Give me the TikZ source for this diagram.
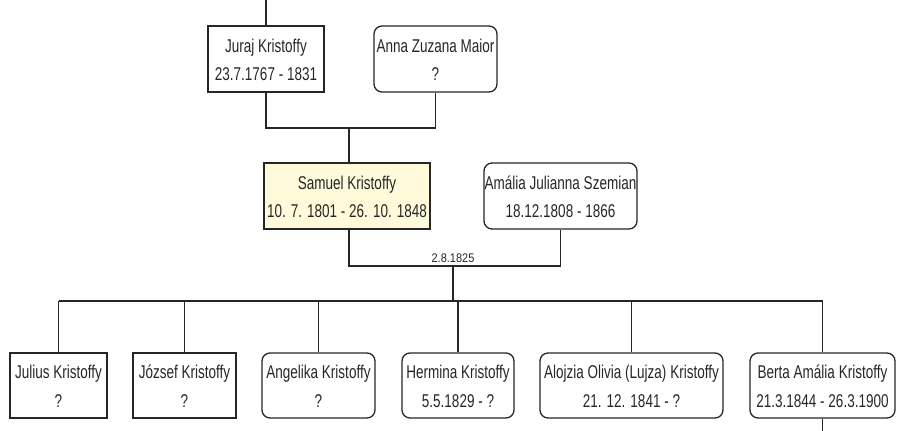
\documentclass[tikz,border=0pt]{standalone}
\usepackage{fontspec}
\setmainfont{Liberation Sans}
\newfontfamily\namefont[FakeStretch=0.73]{Liberation Sans}
\newfontfamily\datefont[FakeStretch=0.88]{Liberation Sans}
% fixed height of the first line and depth of the second, so both baselines sit alike in every box
\newcommand\firstline{\rule{0pt}{17pt}}
\newcommand\secondline{\rule[-2.5pt]{0pt}{2.5pt}}
\begin{document}
\begin{tikzpicture}[x=1pt,y=1pt,
  person/.style={draw=black!85, line width=1.3pt, minimum height=66pt, inner sep=0pt,
    align=center, font=\namefont\fontsize{18.5}{28.5}\selectfont, text=black!85},
  male/.style={person},
  female/.style={person, rounded corners=8pt},
  wire/.style={draw=black!85, line width=1.3pt},
  datelabel/.style={font=\datefont\fontsize{12.5}{14}\selectfont, text=black!85, inner sep=1pt}]
\useasboundingbox (0,0) rectangle (897,-431);

% grandparents
\node[male, minimum width=116pt] (juraj) at (266,-59) {\firstline Juraj Kristoffy\\23.7.1767 - 1831\secondline};
\node[female, minimum width=123pt] (anna) at (435.5,-59) {\firstline Anna Zuzana Maior\\?\secondline};

% parents
\node[male, minimum width=166pt, fill={rgb,255:red,255;green,250;blue,218}] (samuel) at (347,-196)
  {\firstline Samuel Kristoffy\\10. 7. 1801 - 26. 10. 1848\secondline};
\node[female, minimum width=153pt] (amalia) at (560.5,-196) {\firstline Amália Julianna Szemian\\18.12.1808 - 1866\secondline};

% children
\node[male, minimum width=97pt, minimum height=65pt] (julius) at (58.5,-385.5) {\firstline Julius Kristoffy\\?\secondline};
\node[male, minimum width=103pt, minimum height=65pt] (jozsef) at (184.5,-385.5) {\firstline József Kristoffy\\?\secondline};
\node[female, minimum width=113pt, minimum height=65pt] (angelika) at (318.5,-385.5) {\firstline Angelika Kristoffy\\?\secondline};
\node[female, minimum width=112pt, minimum height=65pt] (hermina) at (458,-385.5) {\firstline Hermina Kristoffy\\5.5.1829 - ?\secondline};
\node[female, minimum width=183pt, minimum height=65pt] (alojzia) at (631.5,-385.5) {\firstline Alojzia Olivia (Lujza) Kristoffy\\21. 12. 1841 - ?\secondline};
\node[female, minimum width=145pt, minimum height=65pt] (berta) at (822.5,-385.5) {\firstline Berta Amália Kristoffy\\21.3.1844 - 26.3.1900\secondline};

% junction points
\coordinate (up) at (266,0);
\coordinate (m1) at (349,-128);
\coordinate (m2) at (453,-266);
\coordinate (bar) at (453,-301);
\coordinate (down) at (822.5,-431);

% ancestry stub and grandparents' couple line
\draw[wire] (juraj.north) -- (up);
\draw[wire] (juraj.south) |- (m1) -| (anna.south);
\draw[wire] (m1) -- (m1 |- samuel.north);

% parents' couple line with marriage date
\draw[wire] (samuel.south -| m1) |- (m2) -| (amalia.south);
\node[datelabel, anchor=base] (wed) at (453,-262) {2.8.1825};
\draw[wire] (m2) -- (bar);

% sibling bar and drops
\draw[wire] (julius.north |- bar) -- (berta.north |- bar);
\foreach \c in {julius,jozsef,angelika,hermina,alojzia,berta}
  \draw[wire] (\c.north |- bar) -- (\c.north);

% descendant stub
\draw[wire] (berta.south) -- (down);
\end{tikzpicture}
\end{document}
